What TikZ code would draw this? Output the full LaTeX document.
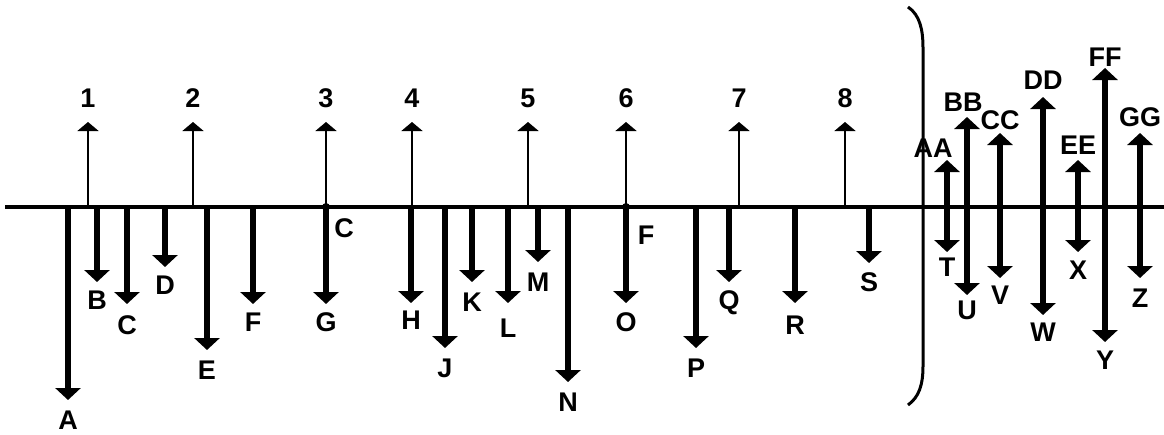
\documentclass[tikz,border=0pt]{standalone}
\usepackage{fontspec}
\setmainfont{Liberation Sans}
\usetikzlibrary{arrows.meta}
\begin{document}
\begin{tikzpicture}[x=1pt,y=-1pt,
  lbl/.style={font=\fontsize{27}{27}\selectfont\bfseries, inner sep=0pt},
  axisline/.style={line width=4.5pt},
  uparrow/.style={line width=1.8pt, -{Triangle[width=21pt,length=9pt]}},
  downarrow/.style={line width=6pt, -{Triangle[width=25pt,length=12pt]}},
  dblarrow/.style={line width=6pt, {Triangle[width=25pt,length=12pt]}-{Triangle[width=25pt,length=12pt]}},
  lens/.style={line width=3pt},
  pivot/.style={circle, fill=black, inner sep=0pt, minimum size=8pt}]
\useasboundingbox (0,0) rectangle (1164,434);
% axis
\coordinate (axL) at (5,207);
\coordinate (axR) at (1164,207);
\draw[axisline] (axL) -- (axR);
% up arrows
\foreach \x/\t [count=\i] in {88/1,193/2,326/3,412/4,528/5,626/6,739/7,845/8}{
  \coordinate (u\i b) at (\x,207);
  \coordinate (u\i t) at (\x,122);
  \draw[uparrow] (u\i b) -- (u\i t);
  \node[lbl] (u\i l) at (\x,98) {\t};
}
% down arrows
\foreach \x/\y/\ly/\t [count=\i] in {68/400/420/A,97/282/300/B,127/304/325/C,165/267/285/D,207/350/370/E,253/304/322/F,326/304/322/G,411/303/320/H,445/348/368/J,472/282/302/K,508/303/328/L,538/262/282/M,568/382/402/N,626/303/322/O,696/348/368/P,729/282/303/Q,795/303/325/R,869/263/282/S}{
  \coordinate (d\i b) at (\x,205);
  \coordinate (d\i t) at (\x,\y);
  \draw[downarrow] (d\i b) -- (d\i t);
  \node[lbl] (d\i l) at (\x,\ly) {\t};
}
% pivot points
\node[pivot] (p1) at (326,207) {};
\node[pivot] (p2) at (626,207) {};
\node[lbl] (p1l) at (344,228) {C};
\node[lbl] (p2l) at (646,235) {F};
% lens
\coordinate (lt) at (908,7);
\coordinate (lb) at (908,405);
\draw[lens] (lt) .. controls (920,15) and (923,30) .. (923,48) -- (923,366) .. controls (923,385) and (919,397) .. (lb);
% double arrows
\foreach \x/\ta/\tb/\lya/\la/\lx/\lyb/\lb [count=\i] in {947/160/252/148/AA/933/267/T,967/117/295/102/BB/963/310/U,1000/133/278/120/CC/1000/295/V,1043/97/315/80/DD/1043/332/W,1078/160/252/145/EE/1078/270/X,1105/68/342/57/FF/1105/360/Y,1140/133/278/117/GG/1140/298/Z}{
  \coordinate (w\i t) at (\x,\ta);
  \coordinate (w\i b) at (\x,\tb);
  \draw[dblarrow] (w\i t) -- (w\i b);
  \node[lbl] (w\i u) at (\lx,\lya) {\la};
  \node[lbl] (w\i l) at (\x,\lyb) {\lb};
}
\end{tikzpicture}
\end{document}
